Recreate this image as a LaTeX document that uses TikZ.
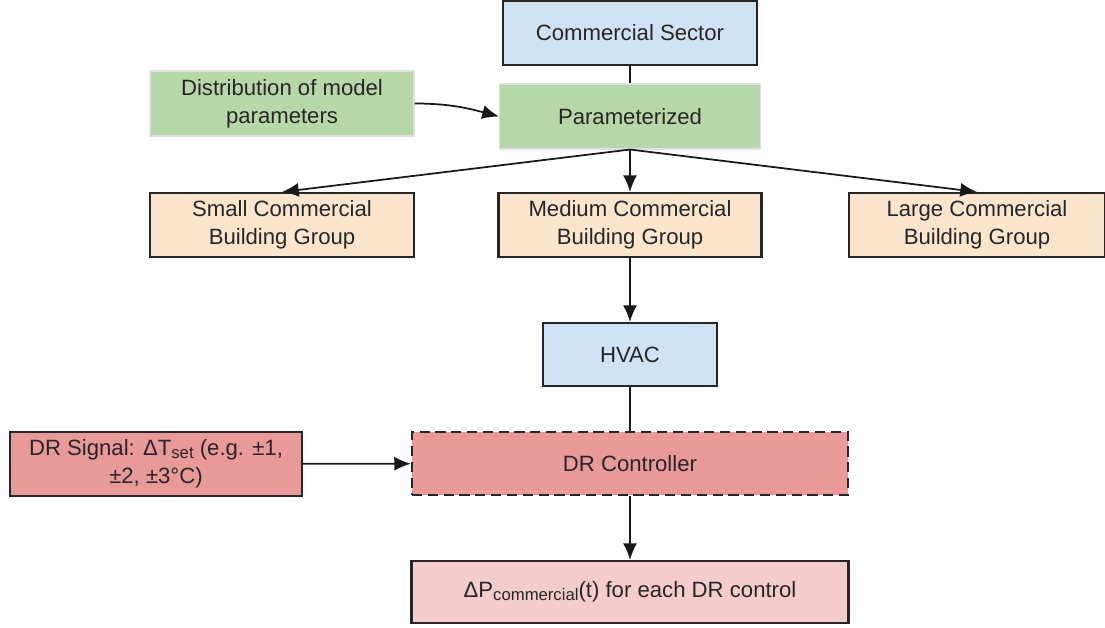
\documentclass[tikz,border=0pt]{standalone}
\usepackage{fontspec}
\setmainfont{Liberation Sans}
\usetikzlibrary{arrows.meta}
\definecolor{sectorblue}{HTML}{CFE2F3}
\definecolor{paramgreen}{HTML}{B6D7A8}
\definecolor{grouppeach}{HTML}{FCE5CD}
\definecolor{drred}{HTML}{EA9999}
\definecolor{outpink}{HTML}{F4CCCC}
\newcommand{\lowtext}[1]{\raisebox{-0.25ex}{\fontsize{9.5}{10}\selectfont #1}}

\begin{document}
\begin{tikzpicture}[>={Latex[length=9.5pt,width=8pt]},
    every node/.style={font=\fontsize{12.6}{16}\selectfont,text=black!85,align=center,inner sep=0pt},
    box/.style={draw=black!85,line width=1.2pt},
    softbox/.style={draw=black!12,line width=0.6pt,fill=paramgreen},
    dashbox/.style={box,dash pattern=on 5.8pt off 3.2pt},
    link/.style={line width=1pt,black!90}]
        \useasboundingbox (0,0) rectangle (22.1,-12.56);
        %上部
        \node[box,fill=sectorblue,minimum width=5.08cm,minimum height=1.28cm] (sector) at (12.6,-0.66) {Commercial Sector};
        \node[softbox,minimum width=5.28cm,minimum height=1.3cm] (dist) at (5.64,-2.07) {Distribution of model\\parameters};
        \node[softbox,minimum width=5.22cm,minimum height=1.3cm] (param) at (12.6,-2.33) {Parameterized};
        \draw[link](sector)--(param);
        \draw[link,->](dist.east) to[out=0,in=165] (param.west);
        %建筑分组
        \node[box,fill=grouppeach,minimum width=5.28cm,minimum height=1.28cm] (small) at (5.64,-4.5) {Small Commercial\\Building Group};
        \node[box,fill=grouppeach,minimum width=5.26cm,minimum height=1.28cm] (medium) at (12.6,-4.5) {Medium Commercial\\Building Group};
        \node[box,fill=grouppeach,minimum width=5.12cm,minimum height=1.28cm] (large) at (19.54,-4.5) {Large Commercial\\Building Group};
        \foreach \g in{small,medium,large}{
        \draw[link,->](param.south)--(\g.north);
        }
        %下部
        \node[box,fill=sectorblue,minimum width=3.48cm,minimum height=1.26cm] (hvac) at (12.6,-7.09) {HVAC};
        \node[dashbox,fill=drred,minimum width=8.72cm,minimum height=1.26cm] (ctrl) at (12.6,-9.27) {DR Controller};
        \node[box,fill=drred,minimum width=5.84cm,minimum height=1.28cm] (signal) at (3.12,-9.28) {DR Signal: ΔT\lowtext{set} (e.g. ±1,\\±2, ±3°C)};
        \node[box,fill=outpink,minimum width=8.74cm,minimum height=1.24cm] (dp) at (12.6,-11.84) {ΔP\lowtext{commercial}(t) for each DR control};
        \draw[link,->](medium)--(hvac);
        \draw[link](hvac)--(ctrl);
        \draw[link,->](signal)--(ctrl);
        \draw[link,->](ctrl)--(dp);
    \end{tikzpicture}
\end{document}
